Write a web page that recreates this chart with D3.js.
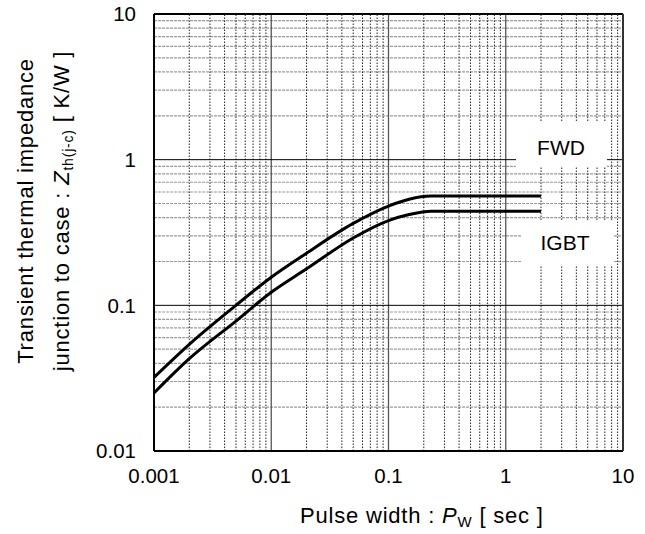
<!DOCTYPE html>
<html>
<head>
<meta charset="utf-8">
<script src="https://cdn.jsdelivr.net/npm/d3@7"></script>
<style>
  body { margin: 0; background: #fff; }
  svg { display: block; font-family: "Liberation Sans", Arial, sans-serif; }
</style>
</head>
<body>
<svg id="chart"></svg>
<script>
const width = 645;
const height = 534;

// --- Data ---
const pulseFWD = [0.001, 0.002, 0.005, 0.01, 0.02, 0.05, 0.1, 0.15, 0.23, 2];
const zthFWD   = [0.032, 0.054, 0.100, 0.156, 0.228, 0.365, 0.48, 0.535, 0.562, 0.562];
const pulseIGBT = [0.001, 0.002, 0.005, 0.01, 0.02, 0.05, 0.1, 0.15, 0.23, 2];
const zthIGBT   = [0.025, 0.043, 0.078, 0.123, 0.178, 0.29, 0.382, 0.42, 0.443, 0.443];
const xTicks = [0.001, 0.01, 0.1, 1, 10];
const yTicks = [0.01, 0.1, 1, 10];
const seriesLabels = ["FWD", "IGBT"];

const margin = { top: 14, right: 22, bottom: 83, left: 154 };

const svg = d3.select("#chart")
  .attr("width", width)
  .attr("height", height);

const x = d3.scaleLog().domain([0.001, 10]).range([margin.left, width - margin.right]);
const y = d3.scaleLog().domain([0.01, 10]).range([height - margin.bottom, margin.top]);

// minor values 2..9 per decade
const minors = (lo, hi) => {
  const out = [];
  for (let d = lo; d < hi; d *= 10) for (let k = 2; k <= 9; k++) out.push(d * k);
  return out;
};

const gGrid = svg.append("g");

// horizontal minor (gray dashed)
gGrid.selectAll(".hminor")
  .data(minors(0.01, 10))
  .join("line")
  .attr("x1", x.range()[0]).attr("x2", x.range()[1])
  .attr("y1", d => y(d)).attr("y2", d => y(d))
  .attr("stroke", "#9a9a9a")
  .attr("stroke-width", 1.2)
  .attr("stroke-dasharray", "3,1");

// vertical minor (dark dotted)
gGrid.selectAll(".vminor")
  .data(minors(0.001, 10))
  .join("line")
  .attr("x1", d => x(d)).attr("x2", d => x(d))
  .attr("y1", y.range()[0]).attr("y2", y.range()[1])
  .attr("stroke", "#222")
  .attr("stroke-width", 1)
  .attr("stroke-dasharray", "1.5,1.5");

// major lines
gGrid.selectAll(".vmajor")
  .data([0.01, 0.1, 1])
  .join("line")
  .attr("x1", d => x(d)).attr("x2", d => x(d))
  .attr("y1", y.range()[0]).attr("y2", y.range()[1])
  .attr("stroke", "#555")
  .attr("stroke-width", 1.3);

gGrid.selectAll(".hmajor")
  .data([0.1, 1])
  .join("line")
  .attr("x1", x.range()[0]).attr("x2", x.range()[1])
  .attr("y1", d => y(d)).attr("y2", d => y(d))
  .attr("stroke", "#000")
  .attr("stroke-width", 1);

// --- label boxes (white, hide grid) ---
const boxes = [
  { label: seriesLabels[0], x0: 516, x1: 607, y0: 122, y1: 167, tx: 561, ty: 155 },
  { label: seriesLabels[1], x0: 521, x1: 614, y0: 220, y1: 265, tx: 565, ty: 250 }
];

svg.append("g").selectAll("rect")
  .data(boxes)
  .join("rect")
  .attr("x", d => d.x0).attr("y", d => d.y0)
  .attr("width", d => d.x1 - d.x0).attr("height", d => d.y1 - d.y0)
  .attr("fill", "#fff");

svg.append("g").selectAll("text")
  .data(boxes)
  .join("text")
  .attr("x", d => d.tx).attr("y", d => d.ty)
  .attr("text-anchor", "middle")
  .attr("font-size", 21)
  .text(d => d.label);

// --- curves ---
const line = d3.line()
  .x(d => x(d[0]))
  .y(d => y(d[1]))
  .curve(d3.curveMonotoneX);

const series = [
  d3.zip(pulseFWD, zthFWD),
  d3.zip(pulseIGBT, zthIGBT)
];

svg.append("g").selectAll("path")
  .data(series)
  .join("path")
  .attr("d", line)
  .attr("fill", "none")
  .attr("stroke", "#000")
  .attr("stroke-width", 3);

// --- frame ---
const [xl, xr] = x.range();
const [yb, yt] = y.range();
svg.append("line").attr("x1", xl).attr("x2", xr).attr("y1", yt).attr("y2", yt).attr("stroke", "#000").attr("stroke-width", 2);
svg.append("line").attr("x1", xl).attr("x2", xr).attr("y1", yb).attr("y2", yb).attr("stroke", "#000").attr("stroke-width", 2);
svg.append("line").attr("x1", xl).attr("x2", xl).attr("y1", yt).attr("y2", yb).attr("stroke", "#000").attr("stroke-width", 2);
svg.append("line").attr("x1", xr).attr("x2", xr).attr("y1", yt).attr("y2", yb).attr("stroke", "#333").attr("stroke-width", 2);

// --- tick labels ---
svg.append("g").selectAll("text")
  .data(xTicks)
  .join("text")
  .attr("x", d => x(d))
  .attr("y", 483)
  .attr("text-anchor", "middle")
  .attr("font-size", 20.5)
  .text(d => d);

svg.append("g").selectAll("text")
  .data(yTicks)
  .join("text")
  .attr("x", 136)
  .attr("y", d => y(d))
  .attr("dy", "0.36em")
  .attr("text-anchor", "end")
  .attr("font-size", 20.5)
  .text(d => d);

// --- axis titles ---
const xt = svg.append("text")
  .attr("x", 300)
  .attr("y", 523)
  .attr("font-size", 22)
  .attr("letter-spacing", 0.8);
xt.append("tspan").text("Pulse width : ");
xt.append("tspan").attr("font-style", "italic").text("P");
xt.append("tspan").attr("font-size", 15).attr("dy", 4).text("W");
xt.append("tspan").attr("dy", -4).text(" [ sec ]");

const yTitle = svg.append("g")
  .attr("transform", "translate(0,211) rotate(-90)")
  .attr("letter-spacing", 0.8);
yTitle.append("text")
  .attr("x", 0).attr("y", 33)
  .attr("text-anchor", "middle")
  .attr("font-size", 22)
  .text("Transient thermal impedance");
const y2 = yTitle.append("text")
  .attr("x", 0).attr("y", 69)
  .attr("text-anchor", "middle")
  .attr("font-size", 22);
y2.append("tspan").text("junction to case : ");
y2.append("tspan").attr("font-style", "italic").text("Z");
y2.append("tspan").attr("font-size", 14).attr("dy", 4).text("th(j-c)");
y2.append("tspan").attr("dy", -4).text(" [ K/W ]");
</script>
</body>
</html>
